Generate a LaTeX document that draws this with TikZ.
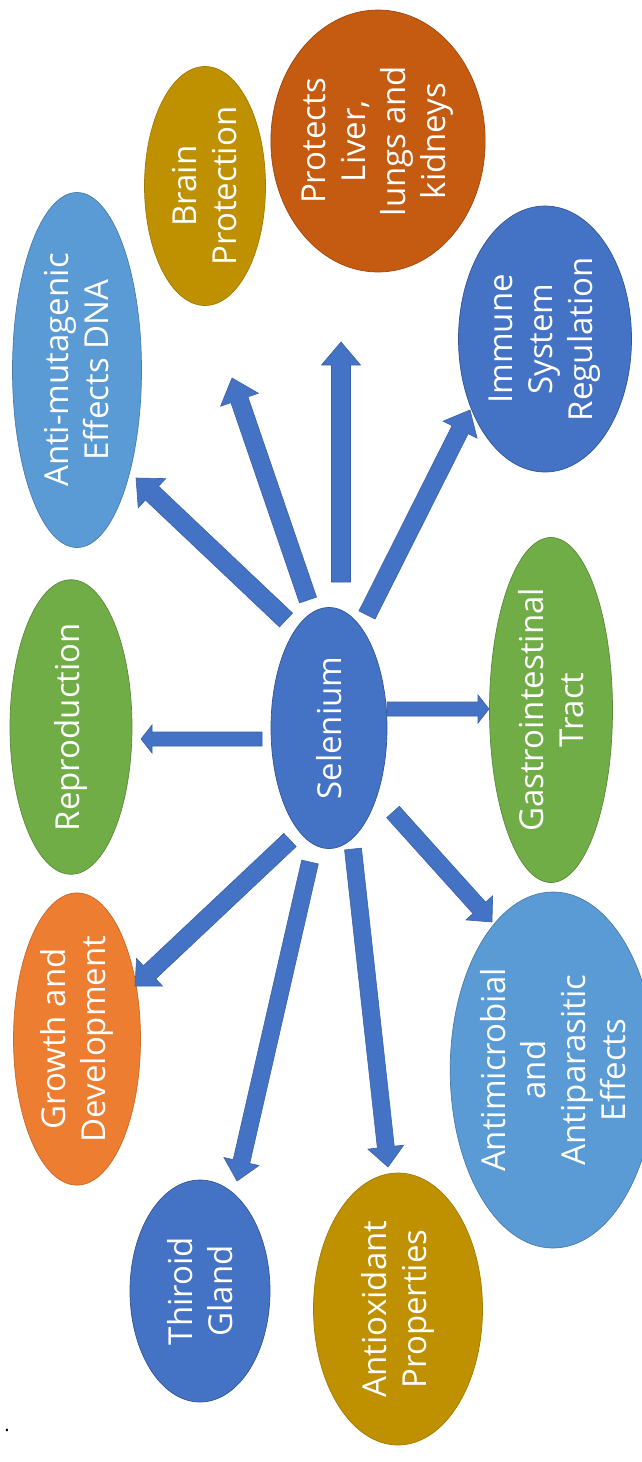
\documentclass[tikz,border=0pt]{standalone}
\usepackage{fontspec}
\setmainfont{Open Sans}
\usetikzlibrary{shapes.geometric,calc}

\definecolor{cblue}{HTML}{4472C4}
\definecolor{cgreen}{HTML}{70AD47}
\definecolor{clight}{HTML}{5B9BD5}
\definecolor{cgold}{HTML}{BF9000}
\definecolor{crust}{HTML}{C55A11}
\definecolor{corange}{HTML}{ED7D31}
\definecolor{arrowedge}{HTML}{3A62A8}

% block arrow: start, tip, shaft half-width, head half-width, head length
\newcommand{\blockarrow}[5]{%
  \coordinate (hb) at ($(#2)!#5!(#1)$);
  \path[arrowsty] ($(#1)!#3!90:(#2)$) -- ($(hb)!#3!-90:(#1)$) -- ($(hb)!#4!-90:(#1)$)
    -- (#2) -- ($(hb)!#4!90:(#1)$) -- ($(hb)!#3!90:(#1)$) -- ($(#1)!#3!-90:(#2)$) -- cycle;}

\begin{document}
\begin{tikzpicture}[x=1pt,y=-1pt,
  bub/.style={ellipse, inner sep=0pt, rotate=90, text=white, align=center,
    line width=0.7pt, font=\fontsize{33}{40}\selectfont},
  fblue/.style={fill=cblue, draw=cblue!75!black},
  fgreen/.style={fill=cgreen, draw=cgreen!80!black},
  flight/.style={fill=clight, draw=clight!80!black},
  fgold/.style={fill=cgold, draw=cgold!85!black},
  frust/.style={fill=crust, draw=crust!80!black},
  forange/.style={fill=corange, draw=corange!85!black},
  arrowsty/.style={fill=cblue, draw=arrowedge, line width=0.6pt, line join=miter}]

\fill[white] (0,0) rectangle (642,1462);
\useasboundingbox (0,0) rectangle (642,1462);

% central node
\node[bub, fblue, minimum width=241pt, minimum height=116pt] (sel) at (329,728) {Selenium};

% surrounding effects
\node[bub, fgreen, minimum width=278pt, minimum height=122pt] (repro) at (71,727) {Reproduction};
\node[bub, flight, minimum width=355pt, minimum height=129pt] (dna) at (77,370) {Anti-mutagenic\\Effects DNA};
\node[bub, fgold, minimum width=239pt, minimum height=121pt] (brain) at (205,186) {Brain\\Protection};
\node[bub, frust, minimum width=262pt, minimum height=176pt] (liver) at (378,141) {Protects\\Liver,\\lungs and\\kidneys};
\node[bub, fblue, minimum width=266pt, minimum height=173pt] (immune) at (545,339) {Immune\\System\\Regulation};
\node[bub, fgreen, minimum width=305pt, minimum height=123pt] (gastro) at (551,710) {Gastrointestinal\\Tract};
\node[bub, flight, minimum width=356pt, minimum height=167pt] (micro) at (553,1070) {Antimicrobial\\and\\Antiparasitic\\Effects};
\node[bub, fgold, minimum width=272pt, minimum height=169pt] (oxid) at (398,1309) {Antioxidant\\Properties};
\node[bub, fblue, minimum width=222pt, minimum height=140pt] (thyroid) at (200,1291) {Thiroid\\Gland};
\node[bub, forange, minimum width=282pt, minimum height=127pt] (growth) at (77,1039) {Growth and\\Development};

\node[text=black, font=\fontsize{20}{20}\selectfont] (dot) at (7,1430) {.};

% arrow ends around the central node
\coordinate (s-repro) at (262,739);   \coordinate (t-repro) at (141,739);
\coordinate (s-gastro) at (387,709);  \coordinate (t-gastro) at (489,709);
\coordinate (s-liver) at (341,582);   \coordinate (t-liver) at (341,342);
\coordinate (s-dna) at (286,620);     \coordinate (t-dna) at (136,478);
\coordinate (s-brain) at (308,600);   \coordinate (t-brain) at (232,378);
\coordinate (s-immune) at (367,615);  \coordinate (t-immune) at (470,410);
\coordinate (s-micro) at (393,812);   \coordinate (t-micro) at (492,922);
\coordinate (s-oxid) at (353,849);    \coordinate (t-oxid) at (388,1167);
\coordinate (s-thyroid) at (310,862); \coordinate (t-thyroid) at (237,1181);
\coordinate (s-growth) at (290,840);  \coordinate (t-growth) at (135,986);

\blockarrow{s-repro}{t-repro}{7pt}{14pt}{11pt}
\blockarrow{s-gastro}{t-gastro}{7pt}{14pt}{11pt}
\blockarrow{s-liver}{t-liver}{9.5pt}{19.5pt}{23pt}
\blockarrow{s-dna}{t-dna}{9.5pt}{20pt}{22pt}
\blockarrow{s-brain}{t-brain}{9pt}{20pt}{23pt}
\blockarrow{s-immune}{t-immune}{9pt}{19pt}{22pt}
\blockarrow{s-micro}{t-micro}{8.5pt}{18pt}{19pt}
\blockarrow{s-oxid}{t-oxid}{8.5pt}{18pt}{20pt}
\blockarrow{s-thyroid}{t-thyroid}{8.5pt}{18pt}{20pt}
\blockarrow{s-growth}{t-growth}{9pt}{19pt}{20pt}

\end{tikzpicture}
\end{document}
